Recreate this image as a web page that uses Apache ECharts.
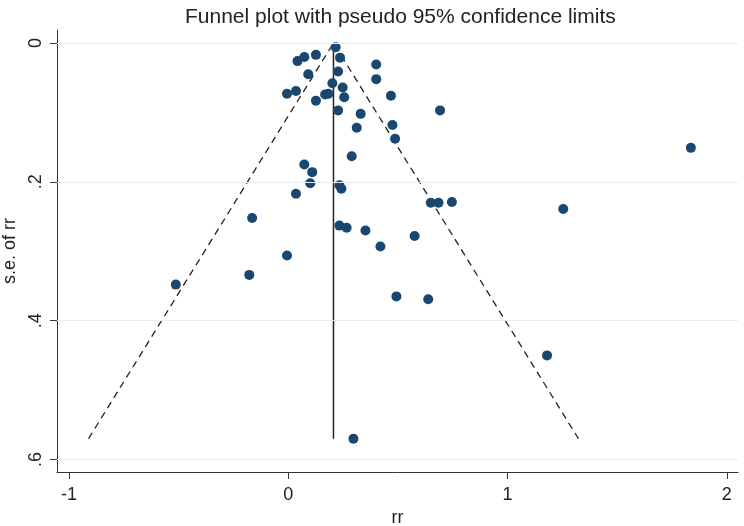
<!DOCTYPE html>
<html>
<head>
<meta charset="utf-8">
<script src="https://cdn.jsdelivr.net/npm/echarts@6/dist/echarts.min.js"></script>
<style>
  html, body { margin: 0; padding: 0; background: #fff; }
  #chart { width: 744px; height: 526px; }
</style>
</head>
<body>
<div id="chart"></div>
<script>
// study estimates (rr) and their standard errors
var rr = [0.216, 0.073, 0.042, 0.126, 0.236, 0.401, 0.227, 0.091, 0.401, 0.201,
          0.248, -0.006, 0.035, 0.168, 0.183, 0.255, 0.126, 0.468, 0.227, 0.330,
          0.692, 0.312, 0.475, 0.487, 0.289, 0.073, 0.109, 0.100, 0.233, 0.242,
          0.035, 0.650, 0.685, 0.746, -0.165, 0.233, 0.266, 0.352, 0.576, 0.420,
          -0.006, -0.178, 0.493, 0.638, -0.513, 1.180, 1.836, 1.254, 0.297];
var se = [0.006, 0.020, 0.026, 0.017, 0.021, 0.031, 0.041, 0.045, 0.052, 0.058,
          0.064, 0.073, 0.069, 0.074, 0.073, 0.078, 0.083, 0.076, 0.097, 0.102,
          0.097, 0.122, 0.118, 0.138, 0.163, 0.175, 0.186, 0.202, 0.205, 0.210,
          0.217, 0.230, 0.230, 0.229, 0.252, 0.263, 0.266, 0.270, 0.278, 0.293,
          0.306, 0.334, 0.365, 0.369, 0.348, 0.450, 0.151, 0.239, 0.570];

var pooled = 0.206;   // fixed-effect estimate
var seMax = 0.57;     // largest s.e., bottom of the funnel
var xTicks = [-1, 0, 1, 2];
var yTicks = [0, 0.2, 0.4, 0.6];

var points = rr.map(function (v, i) { return [v, se[i]]; });
var funnel = [
  [pooled - 1.96 * seMax, seMax],
  [pooled, 0],
  [pooled + 1.96 * seMax, seMax]
];

var myChart = echarts.init(document.getElementById("chart"));
var font = "Liberation Sans, Arial, sans-serif";
var axisCol = "#333";

var option = {
  backgroundColor: "#fff",
  animation: false,
  title: {
    text: "Funnel plot with pseudo 95% confidence limits",
    left: 180,
    top: 2,
    textStyle: { fontFamily: font, fontSize: 21, fontWeight: "normal", color: "#222" }
  },
  grid: { left: 57, right: 6, top: 30, bottom: 54, outerBoundsMode: "none" },
  xAxis: {
    type: "value",
    min: -1.055,
    max: 2.051,
    name: "rr",
    nameLocation: "middle",
    nameGap: 35,
    nameTextStyle: { fontFamily: font, fontSize: 18, color: "#222" },
    axisLine: { show: true, onZero: false, lineStyle: { color: axisCol, width: 1 } },
    axisTick: { show: true, length: 7, customValues: xTicks, lineStyle: { color: axisCol } },
    axisLabel: {
      customValues: xTicks,
      margin: 14,
      fontFamily: font,
      fontSize: 18,
      color: "#222"
    },
    splitLine: { show: false }
  },
  yAxis: {
    type: "value",
    inverse: true,
    min: -0.0188,
    max: 0.618,
    name: "s.e. of rr",
    nameLocation: "middle",
    nameGap: 27,
    nameRotate: 90,
    nameTextStyle: { fontFamily: font, fontSize: 18, color: "#222" },
    axisLine: { show: true, onZero: false, lineStyle: { color: axisCol, width: 1 } },
    axisTick: { show: true, length: 7, customValues: yTicks, lineStyle: { color: axisCol } },
    axisLabel: {
      customValues: yTicks,
      rotate: 90,
      margin: 12,
      fontFamily: font,
      fontSize: 18,
      color: "#222",
      formatter: function (v) {
        return v === 0 ? "0" : String(+v.toFixed(1)).replace(/^0/, "");
      }
    },
    splitLine: { show: false }
  },
  series: [
    {
      name: "grid",
      type: "line",
      data: [],
      silent: true,
      markLine: {
        silent: true,
        symbol: "none",
        label: { show: false },
        lineStyle: { color: "#e3eef1", width: 1.2, type: "solid" },
        data: yTicks.map(function (t) { return { yAxis: t }; })
      }
    },
    {
      name: "limits",
      type: "line",
      data: funnel,
      symbol: "none",
      lineStyle: { color: "#222", width: 1.3, type: [7, 5] },
      z: 3
    },
    {
      name: "pooled",
      type: "line",
      data: [[pooled, 0], [pooled, seMax]],
      symbol: "none",
      lineStyle: { color: "#222", width: 1.5 },
      z: 3
    },
    {
      name: "studies",
      type: "scatter",
      data: points,
      symbolSize: 10,
      itemStyle: { color: "#1a476f", opacity: 1 },
      z: 4
    }
  ]
};
option && myChart.setOption(option);
</script>
</body>
</html>
